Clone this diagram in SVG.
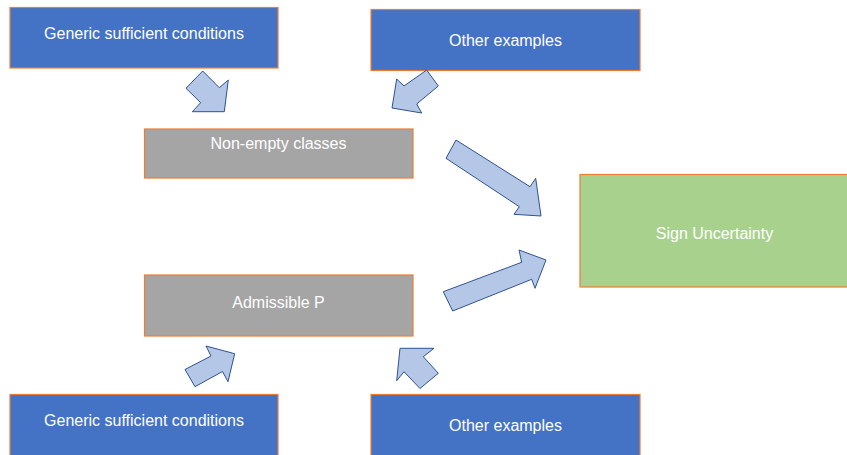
<svg xmlns="http://www.w3.org/2000/svg" width="847" height="455" viewBox="0 0 847 455">
<style>
.box{stroke:#ED7D31;stroke-width:1.2}
.blue{fill:#4472C4}
.gray{fill:#A5A5A5}
.green{fill:#A9D18E}
.lbl{font-family:"Liberation Sans",Arial,sans-serif;font-size:16px;fill:#FFFFFF;text-anchor:middle}
.arr{fill:#B4C7E7;stroke:#2F528F;stroke-width:1;stroke-linejoin:miter}
</style>
<rect width="847" height="455" fill="#FFFFFF"/>
<g id="generic-top">
<rect class="box blue" x="10" y="7.5" width="268" height="60.5"/>
<text class="lbl" x="144" y="39">Generic sufficient conditions</text>
</g>
<g id="other-top">
<rect class="box blue" x="371" y="9.5" width="269" height="61"/>
<text class="lbl" x="505.5" y="46">Other examples</text>
</g>
<g id="non-empty">
<rect class="box gray" x="144.5" y="129" width="268.5" height="49"/>
<text class="lbl" x="278.5" y="149">Non-empty classes</text>
</g>
<g id="sign-uncertainty">
<rect class="box green" x="580" y="174.5" width="270" height="112.5"/>
<text class="lbl" x="714.5" y="238.5">Sign Uncertainty</text>
</g>
<g id="admissible">
<rect class="box gray" x="144.5" y="275" width="268.5" height="61"/>
<text class="lbl" x="278.5" y="307.5">Admissible P</text>
</g>
<g id="generic-bottom">
<rect class="box blue" x="10" y="394.5" width="268" height="70"/>
<text class="lbl" x="144" y="426">Generic sufficient conditions</text>
</g>
<g id="other-bottom">
<rect class="box blue" x="371" y="394.5" width="269" height="70"/>
<text class="lbl" x="505.5" y="431">Other examples</text>
</g>
<g id="connectors">
<polygon class="arr" points="202.7,71 219.3,87.7 228.3,80 224.3,111.7 192.3,111.7 200.7,102.7 186,88.3"/>
<polygon class="arr" points="426.7,70 438.3,86 416.7,104 421.7,113 392,108 396.7,79 404,86"/>
<polygon class="arr" points="456,140 530,186.7 535.7,178.3 541,216 514,214.3 519.3,206.7 446,158.3"/>
<polygon class="arr" points="443.3,291.7 521.7,262.3 519,250 546,260 535,288.3 531.7,279.3 452.7,311"/>
<polygon class="arr" points="185,369.5 211,356 206,346 234.7,353.7 228,381.7 222.5,371.5 195,386.7"/>
<polygon class="arr" points="400,348.3 434,348.3 423.3,356.7 438.3,373.3 420,388.5 404,371.7 396.7,380.7"/>
</g>
</svg>
